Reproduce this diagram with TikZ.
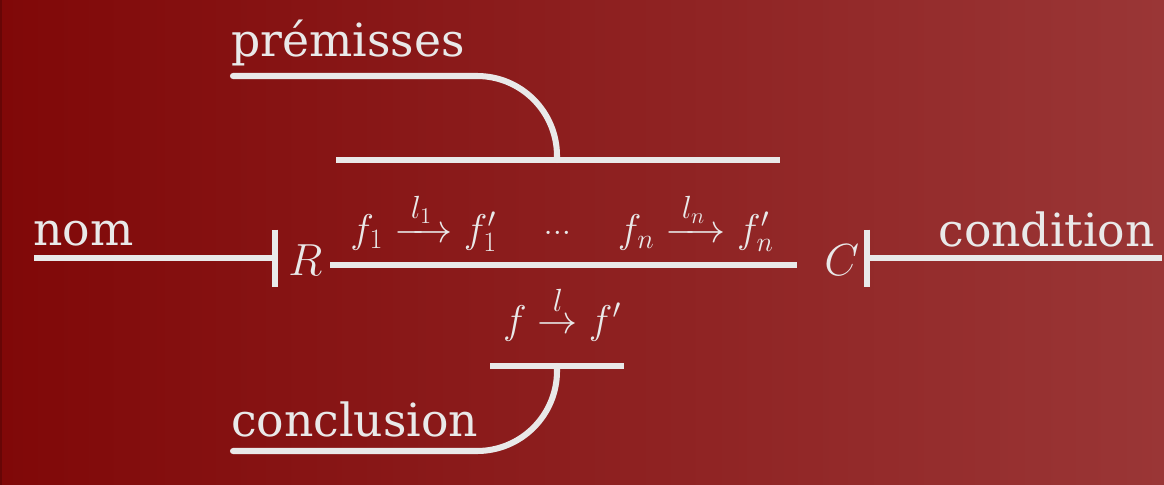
\RequirePackage{fix-cm}
\documentclass[tikz,border=0pt]{standalone}
\usepackage{amsmath}
\usepackage[no-math]{fontspec}
\setmainfont{DejaVu Serif}
\usetikzlibrary{positioning}
\definecolor{bgleft}{RGB}{128,8,8}
\definecolor{bgright}{RGB}{154,54,54}
\definecolor{ink}{RGB}{233,233,233}
\newcommand{\arlbl}[1]{\mbox{\fontsize{22.8}{24}\selectfont$#1$}}
\newcommand{\smdots}{\raisebox{0.2cm}{\fontsize{24}{24}\selectfont$...$}}
\tikzset{
  lbl/.style   ={text=ink, inner sep=0pt, font=\fontsize{32.5}{38}\selectfont},
  sym/.style   ={text=ink, inner sep=0pt, font=\fontsize{32}{38}\selectfont},
  frm/.style   ={text=ink, inner sep=0pt, font=\fontsize{28.5}{34}\selectfont},
  stroke/.style={draw=ink, line width=4.3pt},
  hook/.style  ={stroke, rounded corners=2cm, line cap=round},
  tick/.style  ={stroke}
}

\begin{document}
\begin{tikzpicture}
  \useasboundingbox (0,0) rectangle (29.1,-12.125);
  \shade[left color=bgleft, right color=bgright] (0,0) rectangle (29.1,-12.125);
  \fill[bgleft!80!black] (0,0) rectangle (0.05,-12.125);

  % ---------------- labels ----------------
  \node[lbl, anchor=base west] (premisses)  at (5.78,-1.425)  {prémisses};
  \node[lbl, anchor=base west] (nom)        at (0.825,-6.125) {nom};
  \node[sym, anchor=base west] (R)          at (7.2,-6.875)   {$R$};
  \node[sym, anchor=base west] (C)          at (20.6,-6.875)  {$C$};
  \node[lbl, anchor=base east] (condition)  at (28.875,-6.15) {condition};
  \node[lbl, anchor=base west] (conclusion) at (5.77,-10.9)   {conclusion};
  \node[frm, anchor=base]      (hyps)       at (14.05,-6.05)
       {$f_1 \xrightarrow{\;\arlbl{l_1}\;} f_1' \quad\, \smdots \quad\,
         f_n \xrightarrow{\;\arlbl{l_n}\;} f_n'$};
  \node[frm, anchor=base]      (concl)      at (14.05,-8.325)
       {$f \overset{\arlbl{l}}{\rightarrow} f'$};

  % ---------------- anchors of the strokes ----------------
  \coordinate (nomstart)   at (0.85,-6.45);
  \coordinate (rtick)      at (6.875,-6.45);
  \coordinate (ctick)      at (21.67,-6.45);
  \coordinate (condend)    at (29.05,-6.45);
  \coordinate (rulel)      at (8.25,-6.625);
  \coordinate (ruler)      at (19.925,-6.625);
  \coordinate (topbarl)    at (8.4,-4.0);
  \coordinate (topbarr)    at (19.5,-4.0);
  \coordinate (tophook)    at (13.925,-4.0);
  \coordinate (premstart)  at (5.825,-1.9);
  \coordinate (botbarl)    at (12.25,-9.15);
  \coordinate (botbarr)    at (15.6,-9.15);
  \coordinate (bothook)    at (13.925,-9.15);
  \coordinate (conclstart) at (5.825,-11.275);

  % ---------------- strokes ----------------
  \draw[stroke] (nomstart) -- (rtick);
  \draw[tick]   ([yshift=0.7125cm]rtick) -- ([yshift=-0.7125cm]rtick);
  \draw[stroke] (ctick) -- (condend);
  \draw[tick]   ([yshift=0.7125cm]ctick) -- ([yshift=-0.7125cm]ctick);
  \draw[stroke] (rulel) -- (ruler);
  \draw[stroke] (topbarl) -- (topbarr);
  \draw[hook]   (premstart) -| (tophook);
  \draw[stroke] (botbarl) -- (botbarr);
  \draw[hook]   (conclstart) -| (bothook);
\end{tikzpicture}
\end{document}
